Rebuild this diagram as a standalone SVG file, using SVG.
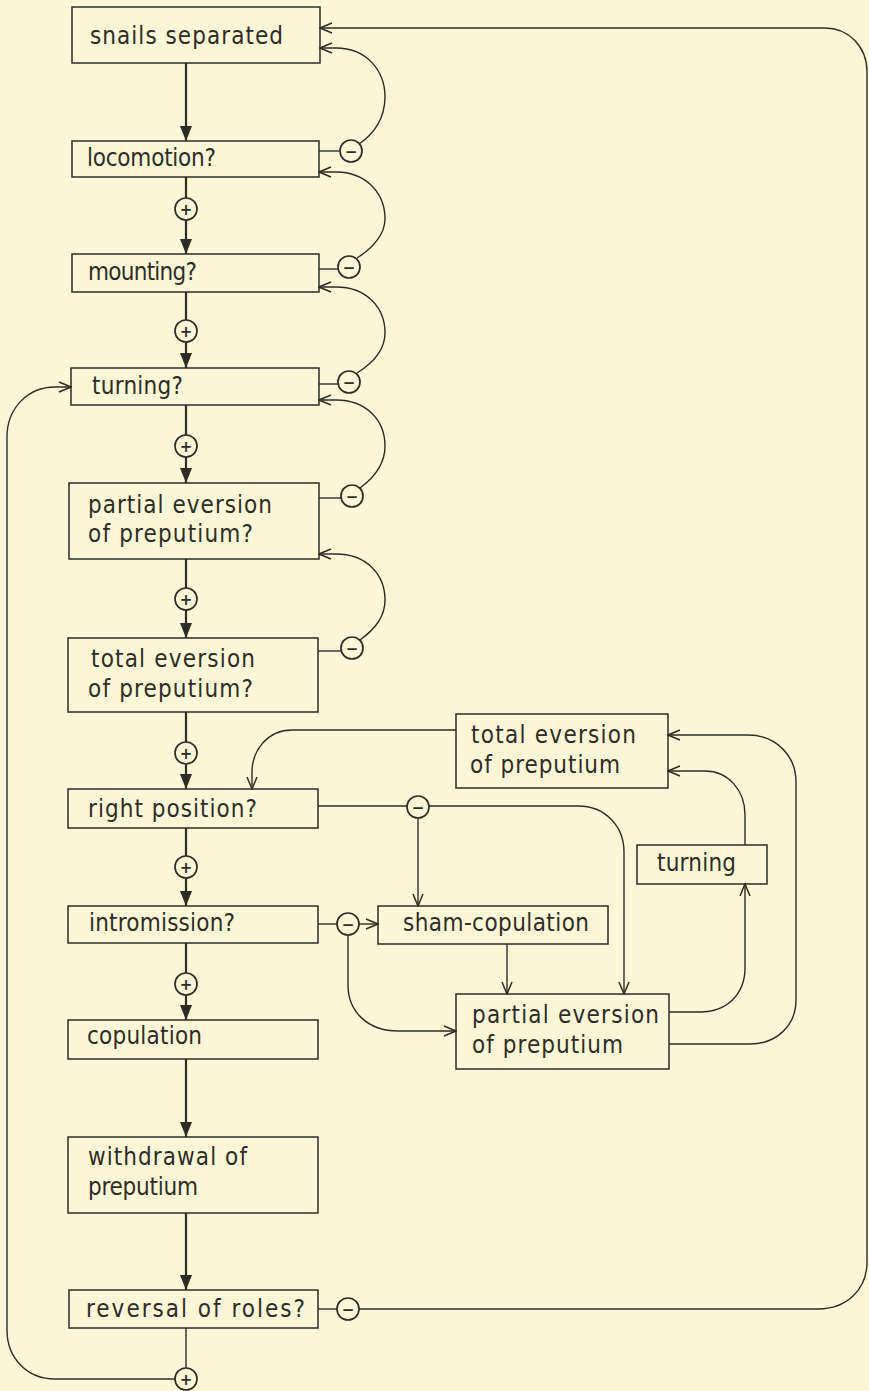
<svg xmlns="http://www.w3.org/2000/svg" width="869" height="1391" viewBox="0 0 869 1391">
<defs>
<style>
.bx{fill:none;stroke:#2e2d25;stroke-width:1.5}
.t{font-family:"DejaVu Sans Condensed","DejaVu Sans","Liberation Sans",sans-serif;font-stretch:condensed;font-size:24px;fill:#2e2d25}
.main{fill:none;stroke:#2e2d25;stroke-width:2.2}
.thin{fill:none;stroke:#2e2d25;stroke-width:1.4}
.c{fill:#fbf7d6;stroke:#2e2d25;stroke-width:1.7}
.s{font-family:"DejaVu Sans","Liberation Sans",sans-serif;font-size:15px;font-weight:bold;fill:#2e2d25;text-anchor:middle}
</style>
<marker id="fa" viewBox="0 0 15 12" refX="15" refY="6" markerWidth="15" markerHeight="12" markerUnits="userSpaceOnUse" orient="auto">
<path d="M0,0 L15,6 L0,12 z" fill="#2e2d25"/>
</marker>
<marker id="oa" viewBox="0 0 14 12" refX="13" refY="6" markerWidth="14" markerHeight="12" markerUnits="userSpaceOnUse" orient="auto">
<path d="M1,1 L13,6 L1,11" fill="none" stroke="#2e2d25" stroke-width="1.5"/>
</marker>
</defs>
<rect width="869" height="1391" fill="#fbf7d6"/>

<g id="connectors">
<path class="main" d="M186,63 V141" marker-end="url(#fa)"/>
<path class="main" d="M186,177 V198"/>
<path class="main" d="M186,220 V254" marker-end="url(#fa)"/>
<path class="main" d="M186,292 V320"/>
<path class="main" d="M186,342 V368" marker-end="url(#fa)"/>
<path class="main" d="M186,405 V435"/>
<path class="main" d="M186,457 V483" marker-end="url(#fa)"/>
<path class="main" d="M186,559 V588"/>
<path class="main" d="M186,610 V638" marker-end="url(#fa)"/>
<path class="main" d="M186,712 V742"/>
<path class="main" d="M186,764 V789" marker-end="url(#fa)"/>
<path class="main" d="M186,828 V856"/>
<path class="main" d="M186,878 V906" marker-end="url(#fa)"/>
<path class="main" d="M186,943 V973"/>
<path class="main" d="M186,995 V1020" marker-end="url(#fa)"/>
<path class="main" d="M186,1059 V1137" marker-end="url(#fa)"/>
<path class="main" d="M186,1213 V1290" marker-end="url(#fa)"/>
<path class="thin" d="M186,1328 V1368"/>

<path class="thin" d="M319,151 H340"/>
<path class="thin" d="M319,269 H338"/>
<path class="thin" d="M319,384 H338"/>
<path class="thin" d="M319,498 H341"/>
<path class="thin" d="M318,651 H341"/>
<path class="thin" d="M318,806 H407"/>
<path class="thin" d="M318,924 H337"/>
<path class="thin" d="M318,1309 H337"/>

<path class="thin" d="M359,144 C374,134 385,118 385,97 C385,70 366,48 336,48 H320" marker-end="url(#oa)"/>
<path class="thin" d="M357,258 C373,248 385,234 385,219 C385,193 366,172 336,172 H319" marker-end="url(#oa)"/>
<path class="thin" d="M357,373 C373,363 385,349 385,333 C385,307 366,287 336,287 H319" marker-end="url(#oa)"/>
<path class="thin" d="M360,488 C375,477 385,463 385,446 C385,420 366,400 336,400 H319" marker-end="url(#oa)"/>
<path class="thin" d="M360,640 C375,629 385,617 385,600 C385,574 366,554 336,554 H319" marker-end="url(#oa)"/>

<path class="thin" d="M418,818 V906" marker-end="url(#oa)"/>
<path class="thin" d="M429,806 H578 C605,806 624,826 624,852 V994" marker-end="url(#oa)"/>
<path class="thin" d="M456,730 H292 C268,730 252,750 252,772 V789" marker-end="url(#oa)"/>
<path class="thin" d="M359,924 H378" marker-end="url(#oa)"/>
<path class="thin" d="M507,944 V994" marker-end="url(#oa)"/>
<path class="thin" d="M348,935 V985 C348,1012 368,1031 398,1031 H456" marker-end="url(#oa)"/>
<path class="thin" d="M669,1012 H700 C727,1012 745,994 745,968 V884" marker-end="url(#oa)"/>
<path class="thin" d="M745,845 V815 C745,790 728,771 705,771 H668" marker-end="url(#oa)"/>
<path class="thin" d="M669,1044 H750 C777,1044 796,1025 796,1000 V782 C796,755 775,735 748,735 H668" marker-end="url(#oa)"/>

<path class="thin" d="M359,1309 H818 C846,1309 867,1290 867,1262 V72 C867,46 848,28 825,28 H320" marker-end="url(#oa)"/>
<path class="thin" d="M175,1379 H55 C27,1379 7,1358 7,1330 V437 C7,408 28,387 55,387 H71" marker-end="url(#oa)"/>

<circle class="c" cx="186" cy="209" r="11"/><text class="s" x="186" y="214.5">+</text>
<circle class="c" cx="186" cy="331" r="11"/><text class="s" x="186" y="336.5">+</text>
<circle class="c" cx="186" cy="446" r="11"/><text class="s" x="186" y="451.5">+</text>
<circle class="c" cx="186" cy="599" r="11"/><text class="s" x="186" y="604.5">+</text>
<circle class="c" cx="186" cy="753" r="11"/><text class="s" x="186" y="758.5">+</text>
<circle class="c" cx="186" cy="867" r="11"/><text class="s" x="186" y="872.5">+</text>
<circle class="c" cx="186" cy="984" r="11"/><text class="s" x="186" y="989.5">+</text>
<circle class="c" cx="186" cy="1379" r="11"/><text class="s" x="186" y="1384.5">+</text>

<circle class="c" cx="351" cy="151" r="11"/><text class="s" x="351" y="156.5">−</text>
<circle class="c" cx="349" cy="267" r="11"/><text class="s" x="349" y="272.5">−</text>
<circle class="c" cx="349" cy="382" r="11"/><text class="s" x="349" y="387.5">−</text>
<circle class="c" cx="352" cy="496" r="11"/><text class="s" x="352" y="501.5">−</text>
<circle class="c" cx="352" cy="648" r="11"/><text class="s" x="352" y="653.5">−</text>
<circle class="c" cx="418" cy="807" r="11"/><text class="s" x="418" y="812.5">−</text>
<circle class="c" cx="348" cy="924" r="11"/><text class="s" x="348" y="929.5">−</text>
<circle class="c" cx="348" cy="1309" r="11"/><text class="s" x="348" y="1314.5">−</text>
</g>

<g id="n-snails"><rect class="bx" x="72" y="7" width="248" height="56"/><text class="t" x="90" y="44" textLength="193" lengthAdjust="spacing">snails separated</text></g>
<g id="n-locomotion"><rect class="bx" x="72" y="141" width="247" height="36"/><text class="t" x="87" y="166" textLength="129" lengthAdjust="spacing">locomotion?</text></g>
<g id="n-mounting"><rect class="bx" x="72" y="254" width="247" height="38"/><text class="t" x="88" y="280" textLength="109" lengthAdjust="spacing">mounting?</text></g>
<g id="n-turning"><rect class="bx" x="71" y="368" width="248" height="37"/><text class="t" x="92" y="394" textLength="91" lengthAdjust="spacing">turning?</text></g>
<g id="n-partial"><rect class="bx" x="69" y="483" width="250" height="76"/><text class="t" x="88" y="513" textLength="184" lengthAdjust="spacing">partial eversion</text><text class="t" x="88" y="542" textLength="165" lengthAdjust="spacing">of preputium?</text></g>
<g id="n-total"><rect class="bx" x="68" y="638" width="250" height="74"/><text class="t" x="91" y="667" textLength="164" lengthAdjust="spacing">total eversion</text><text class="t" x="88" y="697" textLength="165" lengthAdjust="spacing">of preputium?</text></g>
<g id="n-rightpos"><rect class="bx" x="68" y="789" width="250" height="39"/><text class="t" x="88" y="817" textLength="169" lengthAdjust="spacing">right position?</text></g>
<g id="n-intromission"><rect class="bx" x="68" y="906" width="250" height="37"/><text class="t" x="89" y="931" textLength="146" lengthAdjust="spacing">intromission?</text></g>
<g id="n-copulation"><rect class="bx" x="68" y="1020" width="250" height="39"/><text class="t" x="87" y="1044" textLength="115" lengthAdjust="spacing">copulation</text></g>
<g id="n-withdrawal"><rect class="bx" x="68" y="1137" width="250" height="76"/><text class="t" x="88" y="1165" textLength="159" lengthAdjust="spacing">withdrawal of</text><text class="t" x="88" y="1195" textLength="110" lengthAdjust="spacing">preputium</text></g>
<g id="n-reversal"><rect class="bx" x="69" y="1290" width="249" height="38"/><text class="t" x="86" y="1317" textLength="219" lengthAdjust="spacing">reversal of roles?</text></g>
<g id="n-r-total"><rect class="bx" x="456" y="714" width="212" height="74"/><text class="t" x="471" y="743" textLength="165" lengthAdjust="spacing">total eversion</text><text class="t" x="470" y="773" textLength="150" lengthAdjust="spacing">of preputium</text></g>
<g id="n-r-turning"><rect class="bx" x="637" y="845" width="130" height="39"/><text class="t" x="657" y="871" textLength="79" lengthAdjust="spacing">turning</text></g>
<g id="n-sham"><rect class="bx" x="378" y="906" width="230" height="38"/><text class="t" x="403" y="931" textLength="186" lengthAdjust="spacing">sham-copulation</text></g>
<g id="n-r-partial"><rect class="bx" x="456" y="994" width="213" height="75"/><text class="t" x="472" y="1023" textLength="187" lengthAdjust="spacing">partial eversion</text><text class="t" x="472" y="1053" textLength="151" lengthAdjust="spacing">of preputium</text></g>
</svg>
